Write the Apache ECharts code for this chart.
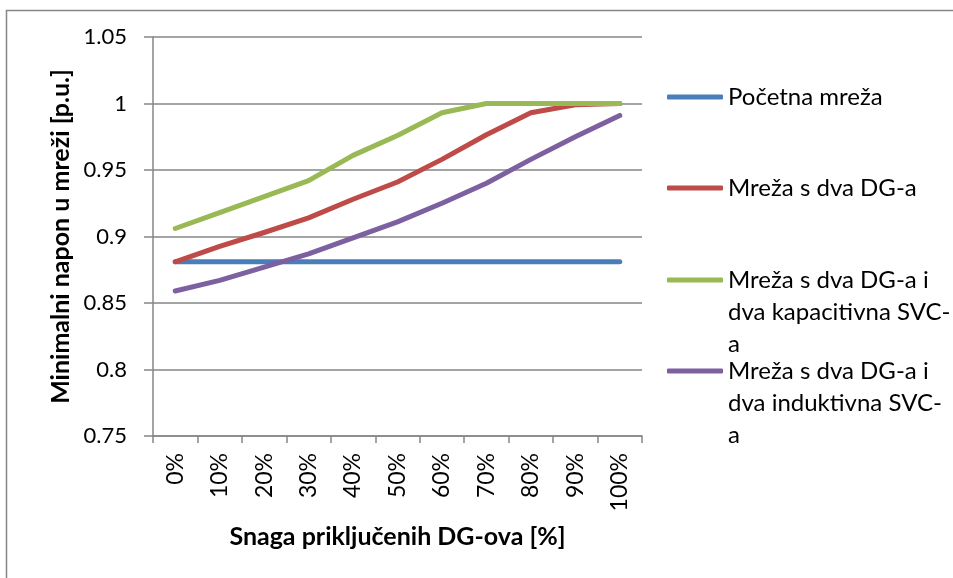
<!DOCTYPE html>
<html>
<head>
<meta charset="utf-8">
<script src="https://cdn.jsdelivr.net/npm/echarts@6/dist/echarts.min.js"></script>
<style>
  html, body { margin: 0; padding: 0; background: #fff; }
  #chart { width: 953px; height: 578px; }
</style>
</head>
<body>
<div id="chart"></div>
<script>
const categories = ['0%', '10%', '20%', '30%', '40%', '50%', '60%', '70%', '80%', '90%', '100%']
const seriesNames = [
  'Početna mreža',
  'Mreža s dva DG-a',
  'Mreža s dva DG-a i dva kapacitivna SVC-a',
  'Mreža s dva DG-a i dva induktivna SVC-a'
]
// legend text as Excel wrapped it
const legendLabels = [
  'Početna mreža',
  'Mreža s dva DG-a',
  'Mreža s dva DG-a i\ndva kapacitivna SVC-\na',
  'Mreža s dva DG-a i\ndva induktivna SVC-\na'
]
const pocetna = [0.881, 0.881, 0.881, 0.881, 0.881, 0.881, 0.881, 0.881, 0.881, 0.881, 0.881]
const dvaDG = [0.881, 0.8925, 0.903, 0.914, 0.928, 0.941, 0.958, 0.9765, 0.993, 0.999, 1.0]
const kapacitivna = [0.906, 0.918, 0.930, 0.942, 0.961, 0.976, 0.993, 1.0, 1.0, 1.0, 1.0]
const induktivna = [0.859, 0.867, 0.877, 0.887, 0.899, 0.911, 0.925, 0.940, 0.958, 0.975, 0.991]
const yTicks = { min: 0.75, max: 1.05, interval: 0.05 }

const colors = ['#4A7EBB', '#BE4B48', '#98B954', '#7D60A0']
const allData = [pocetna, dvaDG, kapacitivna, induktivna]
const font = 'Lato, "Open Sans", sans-serif'
const gray = '#868686'

// icon centre y for every legend entry
const legendY = [97, 188, 280, 371]

const chartInstance = echarts.init(document.getElementById('chart'))

const legends = seriesNames.map((name, index) => {
  const multi = legendLabels[index].indexOf('\n') > -1
  // two empty lines in front so that the first line sits level with the icon
  const label = multi ? '\n\n' + legendLabels[index] : legendLabels[index]
  return {
    orient: 'vertical',
    left: 667,
    top: multi ? legendY[index] - 80 : legendY[index] - 16,
    padding: 0,
    icon: 'roundRect',
    itemWidth: 56,
    itemHeight: 5,
    itemGap: 0,
    selectedMode: false,
    data: [name],
    formatter: () => label,
    textStyle: {
      fontFamily: font,
      fontSize: 24,
      color: '#000',
      lineHeight: 32
    }
  }
})

const seriesData = seriesNames.map((name, index) => {
  return {
    name: name,
    type: 'line',
    data: allData[index],
    symbol: 'none',
    animation: false,
    lineStyle: { color: colors[index], width: 5, cap: 'round', join: 'round' },
    itemStyle: { color: colors[index] }
  }
})

const option = {
  backgroundColor: '#fff',
  graphic: [{
    type: 'rect',
    shape: { x: 6.5, y: 10.5, width: 1000, height: 700 },
    style: { fill: 'none', stroke: gray, lineWidth: 1.5 },
    silent: true,
    z: -10
  }],
  grid: { left: 153, right: 311, top: 37, bottom: 142 },
  legend: legends,
  xAxis: {
    type: 'category',
    data: categories,
    boundaryGap: true,
    name: 'Snaga priključenih DG-ova [%]',
    nameLocation: 'middle',
    nameGap: 88,
    nameMoveOverlap: false,
    nameTextStyle: { fontFamily: font, fontSize: 25, fontWeight: 'bold', color: '#000' },
    axisLine: { lineStyle: { color: gray, width: 1.5 } },
    axisTick: { show: true, length: 7, alignWithLabel: false, lineStyle: { color: gray, width: 1.5 } },
    axisLabel: { rotate: 90, margin: 17, fontFamily: font, fontSize: 23, color: '#000', interval: 0 },
    splitLine: { show: false }
  },
  yAxis: {
    type: 'value',
    min: yTicks.min,
    max: yTicks.max,
    interval: yTicks.interval,
    name: 'Minimalni napon u mreži [p.u.]',
    nameLocation: 'middle',
    nameGap: 84,
    nameMoveOverlap: false,
    nameTextStyle: { fontFamily: font, fontSize: 25, fontWeight: 'bold', color: '#000', lineHeight: 16 },
    axisLine: { show: true, lineStyle: { color: gray, width: 1.5 } },
    axisTick: { show: true, length: 9, lineStyle: { color: gray, width: 1.5 } },
    axisLabel: { margin: 26, fontFamily: font, fontSize: 22, color: '#000' },
    splitLine: { show: true, lineStyle: { color: gray, width: 1.5 } }
  },
  series: seriesData
}
chartInstance.setOption(option)
</script>
</body>
</html>
